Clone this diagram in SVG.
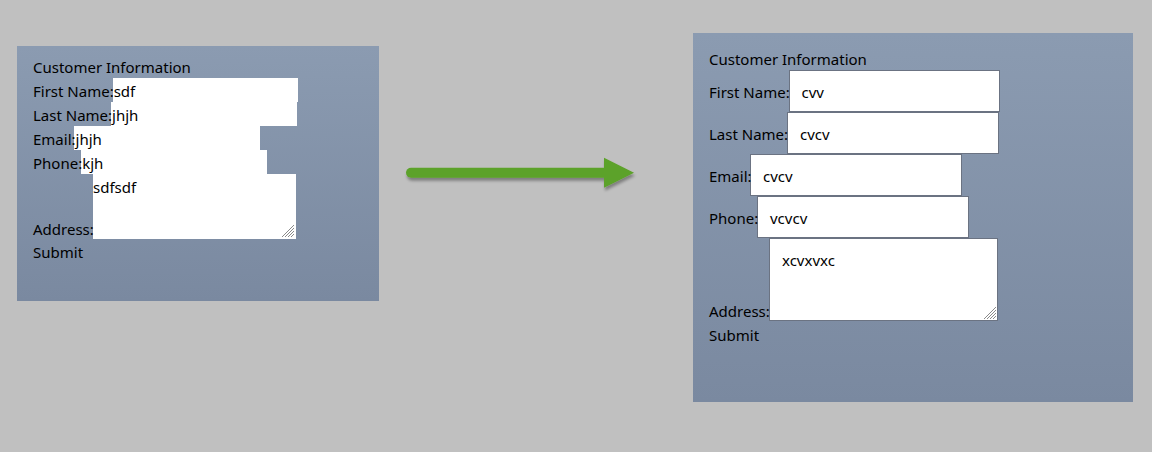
<svg xmlns="http://www.w3.org/2000/svg" width="1152" height="452" viewBox="0 0 1152 452">
<style>
text{font-family:"Noto Sans","Open Sans","Liberation Sans",sans-serif;font-size:15px;fill:#000}
.box{fill:#fff}
.box2{fill:#fff;stroke:#6b7382;stroke-width:1}
.grip{stroke:#8a8a8a;stroke-width:1}
</style>
<defs>
<linearGradient id="pg" x1="0" y1="0" x2="0" y2="1">
<stop offset="0" stop-color="#8b9bb1"/>
<stop offset="1" stop-color="#7a89a0"/>
</linearGradient>
<filter id="sh" x="-10%" y="-50%" width="120%" height="200%">
<feGaussianBlur in="SourceAlpha" stdDeviation="1.5"/>
<feOffset dx="1" dy="3"/>
<feComponentTransfer><feFuncA type="linear" slope="0.35"/></feComponentTransfer>
<feMerge><feMergeNode/><feMergeNode in="SourceGraphic"/></feMerge>
</filter>
<g id="grip">
<line class="grip" x1="0" y1="12" x2="12" y2="0"/>
<line class="grip" x1="3" y1="12" x2="12" y2="3"/>
<line class="grip" x1="6" y1="12" x2="12" y2="6"/>
<line class="grip" x1="9" y1="12" x2="12" y2="9"/>
</g>
</defs>
<rect width="1152" height="452" fill="#c0c0c0"/>

<g id="form-before">
<rect x="17" y="46" width="362" height="255" fill="url(#pg)"/>
<rect class="box" x="113" y="78" width="185" height="24"/>
<rect class="box" x="111" y="102" width="186" height="24"/>
<rect class="box" x="74" y="126" width="186" height="24"/>
<rect class="box" x="81" y="150" width="186" height="24"/>
<rect class="box" x="93" y="174" width="203" height="65"/>
<use href="#grip" x="282" y="225"/>
<text x="33" y="73">Customer Information</text>
<text x="33" y="97">First Name:sdf</text>
<text x="33" y="121">Last Name:jhjh</text>
<text x="33" y="145">Email:jhjh</text>
<text x="33" y="169">Phone:kjh</text>
<text x="93" y="193">sdfsdf</text>
<text x="33" y="235">Address:</text>
<text x="33" y="258">Submit</text>
</g>

<g id="connectors">
<g filter="url(#sh)">
<line x1="411" y1="172.7" x2="608" y2="172.7" stroke="#5ba22a" stroke-width="10" stroke-linecap="round"/>
<polygon points="604,157.7 634,172.7 604,187.7" fill="#5ba22a"/>
</g>
</g>

<g id="form-after">
<rect x="693" y="33" width="440" height="369" fill="url(#pg)"/>
<rect class="box2" x="789.5" y="70.5" width="210" height="41"/>
<rect class="box2" x="787.5" y="112.5" width="211" height="41"/>
<rect class="box2" x="750.5" y="154.5" width="211" height="41"/>
<rect class="box2" x="757.5" y="196.5" width="211" height="41"/>
<rect class="box2" x="769.5" y="238.5" width="228" height="82"/>
<use href="#grip" x="984" y="307"/>
<text x="709" y="65">Customer Information</text>
<text x="709" y="98">First Name:</text>
<text x="801.5" y="98">cvv</text>
<text x="709" y="140">Last Name:</text>
<text x="800" y="140">cvcv</text>
<text x="709" y="182">Email:</text>
<text x="763" y="182">cvcv</text>
<text x="709" y="224">Phone:</text>
<text x="770" y="224">vcvcv</text>
<text x="782" y="266">xcvxvxc</text>
<text x="709" y="317">Address:</text>
<text x="709" y="341">Submit</text>
</g>
</svg>
